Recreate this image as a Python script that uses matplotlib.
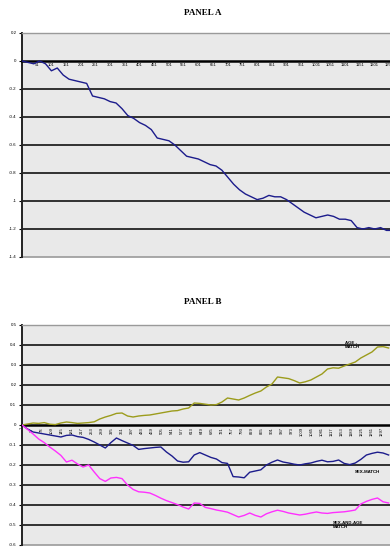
import numpy as np
import matplotlib
matplotlib.use("Agg")
from matplotlib import pyplot as plt

# cumulative series, one value every 20 observations
step = 20

panel_a = [0.00, -0.01, -0.02, 0.00, -0.02, -0.07, -0.05, -0.10, -0.13, -0.14,
           -0.15, -0.16, -0.25, -0.26, -0.27, -0.29, -0.30, -0.34, -0.39, -0.41,
           -0.44, -0.46, -0.49, -0.55, -0.56, -0.57, -0.60, -0.64, -0.68, -0.69,
           -0.70, -0.72, -0.74, -0.75, -0.78, -0.83, -0.88, -0.92, -0.95, -0.97,
           -0.99, -0.98, -0.96, -0.97, -0.97, -0.99, -1.02, -1.05, -1.08, -1.10,
           -1.12, -1.11, -1.10, -1.11, -1.13, -1.13, -1.14, -1.19, -1.20, -1.19,
           -1.20, -1.19, -1.21, -1.21]

age_match = [0.000, 0.005, 0.010, 0.008, 0.012, 0.004, 0.002, 0.010, 0.015, 0.012,
             0.008, 0.010, 0.012, 0.016, 0.030, 0.040, 0.048, 0.058, 0.060, 0.045,
             0.040, 0.045, 0.048, 0.050, 0.055, 0.060, 0.065, 0.070, 0.072, 0.080,
             0.085, 0.110, 0.108, 0.104, 0.100, 0.102, 0.115, 0.135, 0.130, 0.125,
             0.135, 0.148, 0.160, 0.170, 0.190, 0.205, 0.240, 0.236, 0.232, 0.222,
             0.210, 0.216, 0.225, 0.240, 0.255, 0.280, 0.286, 0.284, 0.295, 0.305,
             0.315, 0.335, 0.350, 0.365, 0.390, 0.392, 0.385]

sex_match = [0.000, -0.020, -0.035, -0.040, -0.045, -0.050, -0.055, -0.060, -0.052, -0.050,
             -0.058, -0.062, -0.072, -0.085, -0.100, -0.115, -0.088, -0.065, -0.078, -0.090,
             -0.102, -0.122, -0.118, -0.115, -0.112, -0.110, -0.135, -0.155, -0.180, -0.186,
             -0.184, -0.150, -0.138, -0.150, -0.162, -0.170, -0.188, -0.192, -0.258, -0.260,
             -0.264, -0.236, -0.230, -0.224, -0.200, -0.186, -0.175, -0.185, -0.190, -0.196,
             -0.200, -0.194, -0.190, -0.182, -0.176, -0.184, -0.182, -0.175, -0.192, -0.198,
             -0.190, -0.172, -0.150, -0.142, -0.136, -0.140, -0.150]

sex_age_match = [0.000, -0.022, -0.045, -0.070, -0.088, -0.110, -0.130, -0.152, -0.185, -0.176,
                 -0.195, -0.210, -0.200, -0.235, -0.268, -0.282, -0.265, -0.262, -0.268, -0.300,
                 -0.322, -0.334, -0.336, -0.340, -0.352, -0.366, -0.378, -0.388, -0.398, -0.410,
                 -0.420, -0.390, -0.392, -0.412, -0.418, -0.425, -0.430, -0.436, -0.448, -0.460,
                 -0.452, -0.440, -0.452, -0.460, -0.444, -0.434, -0.426, -0.432, -0.440, -0.445,
                 -0.450, -0.446, -0.440, -0.435, -0.440, -0.442, -0.438, -0.436, -0.434, -0.430,
                 -0.425, -0.395, -0.382, -0.372, -0.365, -0.384, -0.390]

a_yticks = [0.2, 0, -0.2, -0.4, -0.6, -0.8, -1, -1.2, -1.4]
b_yticks = [0.5, 0.4, 0.3, 0.2, 0.1, 0, -0.1, -0.2, -0.3, -0.4, -0.5, -0.6]
a_xlabel_every = 50
b_xlabel_every = 36

NAVY = "#1c1c8c"
OLIVE = "#9c9c1c"
MAGENTA = "#ff30ff"
BG = "#e9e9e9"

plt.rcParams["font.family"] = ["Liberation Sans", "DejaVu Sans"]
plt.rcParams["axes.unicode_minus"] = False

fig = plt.figure(figsize=(3.9, 5.47), dpi=100)
W, H = 390.0, 547.0


def frame(ax, yticks, xlim, every, rotate):
    ax.set_facecolor(BG)
    ax.set_ylim(yticks[-1], yticks[0])
    ax.set_xlim(0, xlim)
    ax.spines["right"].set_visible(False)
    ax.spines["top"].set_color("#9a9a9a")
    ax.spines["top"].set_linewidth(1.0)
    ax.spines["left"].set_color("#222222")
    ax.spines["left"].set_linewidth(1.4)
    # category axis runs along the zero line
    ax.spines["bottom"].set_position(("data", 0))
    ax.spines["bottom"].set_color("black")
    ax.spines["bottom"].set_linewidth(1.8)
    ax.axhline(yticks[-1], color="#9a9a9a", lw=1.2, clip_on=False)
    for v in yticks[1:-1]:
        if v != 0:
            ax.axhline(v, color="black", lw=1.1, zorder=1)
    ax.set_yticks(yticks)
    ax.set_yticklabels([f"{v:g}" for v in yticks])
    ax.tick_params(axis="y", labelsize=3.2, length=2, width=0.8, pad=2)
    pos = np.arange(0, xlim + 1, every)
    ax.set_xticks(pos)
    ax.set_xticklabels([str(p + 1) for p in pos], rotation=90 if rotate else 0)
    ax.tick_params(axis="x", labelsize=3.0, length=0, pad=1.5)


def place(top_px, bottom_px):
    left = 22 / W
    return [left, 1 - bottom_px / H, 1 - left, (bottom_px - top_px) / H]


# panel A
ax_a = fig.add_axes(place(33, 257))
frame(ax_a, a_yticks, 1252, a_xlabel_every, False)
xa = np.arange(len(panel_a)) * step
ax_a.plot(xa, panel_a, color=NAVY, lw=1.0, zorder=3)
fig.text(203 / W, 1 - 13 / H, "PANEL A", ha="center", va="center",
         fontsize=6.5, fontweight="bold", family=["Liberation Serif"])

# panel B
ax_b = fig.add_axes(place(325, 545))
frame(ax_b, b_yticks, 1325, b_xlabel_every, True)
xb = np.arange(len(age_match)) * step
ax_b.plot(xb, age_match, color=OLIVE, lw=1.0, zorder=3)
ax_b.plot(xb, sex_match, color=NAVY, lw=1.0, zorder=3)
ax_b.plot(xb, sex_age_match, color=MAGENTA, lw=1.0, zorder=3)
fig.text(203 / W, 1 - 302 / H, "PANEL B", ha="center", va="center",
         fontsize=6.5, fontweight="bold", family=["Liberation Serif"])

note = dict(fontsize=3.2, fontweight="bold", ha="left", va="center", linespacing=1.1)
ax_b.text(1163, 0.40, "AGE -\nMATCH", **note)
ax_b.text(1199, -0.235, "SEX-MATCH", **note)
ax_b.text(1120, -0.50, "SEX-AND-AGE\nMATCH", **note)

fig.savefig("out.png", dpi=100)
